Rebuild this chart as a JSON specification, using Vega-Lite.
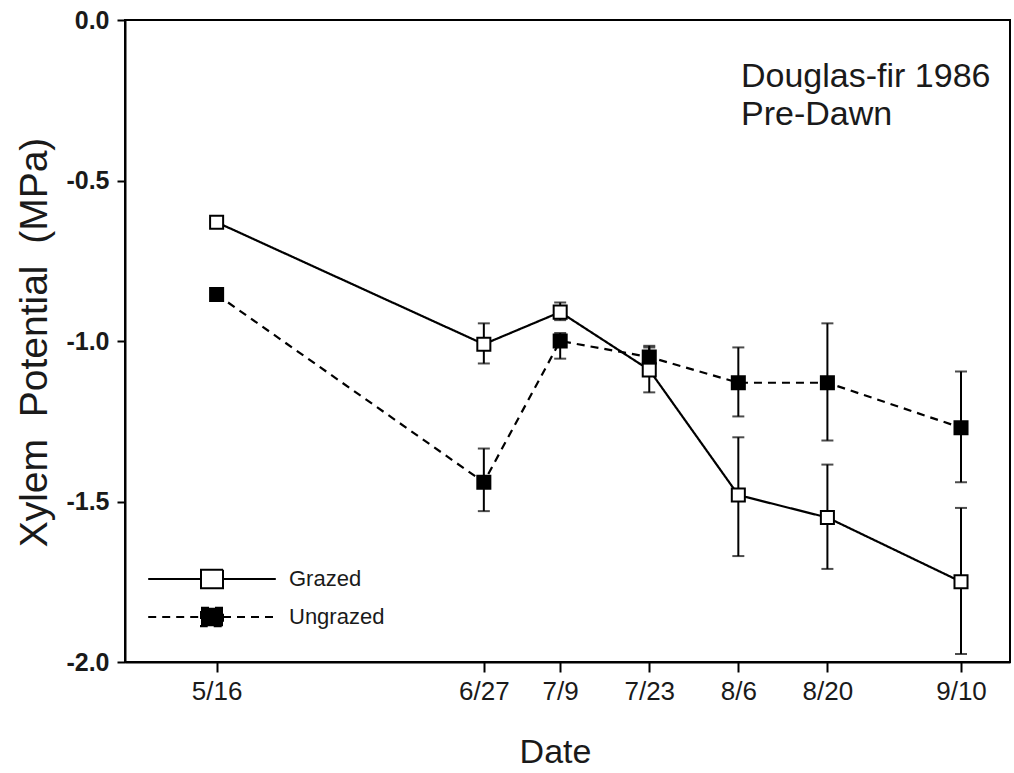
{
  "$schema": "https://vega.github.io/schema/vega-lite/v6.json",
  "width": 885,
  "height": 642,
  "autosize": {"type": "none"},
  "padding": {"left": 125, "top": 20, "right": 4, "bottom": 111},
  "background": "#ffffff",
  "title": {
    "text": ["Douglas-fir 1986", "Pre-Dawn"],
    "anchor": "start",
    "frame": "group",
    "orient": "top",
    "dx": 616,
    "offset": -124,
    "font": "Liberation Sans",
    "fontSize": 34,
    "fontWeight": "normal",
    "color": "#1a1a1a",
    "lineHeight": 38
  },
  "data": {
    "values": [
      {"date": "5/16", "day": 136, "series": "Grazed", "mean": -0.63, "lo": null, "hi": null},
      {"date": "6/27", "day": 178, "series": "Grazed", "mean": -1.01, "lo": -1.07, "hi": -0.945},
      {"date": "7/9", "day": 190, "series": "Grazed", "mean": -0.91, "lo": -0.935, "hi": -0.88},
      {"date": "7/23", "day": 204, "series": "Grazed", "mean": -1.09, "lo": -1.16, "hi": -1.02},
      {"date": "8/6", "day": 218, "series": "Grazed", "mean": -1.48, "lo": -1.67, "hi": -1.3},
      {"date": "8/20", "day": 232, "series": "Grazed", "mean": -1.55, "lo": -1.71, "hi": -1.385},
      {"date": "9/10", "day": 253, "series": "Grazed", "mean": -1.75, "lo": -1.975, "hi": -1.52},
      {"date": "5/16", "day": 136, "series": "Ungrazed", "mean": -0.855, "lo": null, "hi": null},
      {"date": "6/27", "day": 178, "series": "Ungrazed", "mean": -1.44, "lo": -1.53, "hi": -1.335},
      {"date": "7/9", "day": 190, "series": "Ungrazed", "mean": -1.0, "lo": -1.055, "hi": -0.975},
      {"date": "7/23", "day": 204, "series": "Ungrazed", "mean": -1.05, "lo": -1.085, "hi": -1.015},
      {"date": "8/6", "day": 218, "series": "Ungrazed", "mean": -1.13, "lo": -1.235, "hi": -1.02},
      {"date": "8/20", "day": 232, "series": "Ungrazed", "mean": -1.13, "lo": -1.31, "hi": -0.945},
      {"date": "9/10", "day": 253, "series": "Ungrazed", "mean": -1.27, "lo": -1.44, "hi": -1.095}
    ]
  },
  "encoding": {
    "x": {
      "field": "day",
      "type": "quantitative",
      "scale": {"domain": [121.6, 260.7], "nice": false, "zero": false},
      "axis": {
        "title": "Date",
        "values": [136, 178, 190, 204, 218, 232, 253],
        "labelExpr": "timeFormat(datetime(1986, 0, datum.value), '%-m/%-d')",
        "labelFont": "Liberation Sans",
        "labelFontSize": 26,
        "labelColor": "#1a1a1a",
        "labelPadding": 6,
        "tickSize": 10,
        "titleFont": "Liberation Sans",
        "titleFontSize": 34,
        "titleFontWeight": "normal",
        "titleColor": "#1a1a1a",
        "titleX": 430,
        "titleY": 100,
        "titleBaseline": "alphabetic",
        "titleAlign": "center"
      }
    }
  },
  "layer": [
    {
      "transform": [{"filter": "isValid(datum.lo)"}],
      "mark": {"type": "rule", "color": "#000000", "strokeWidth": 2},
      "encoding": {
        "y": {"field": "lo", "type": "quantitative"},
        "y2": {"field": "hi"}
      }
    },
    {
      "transform": [{"filter": "isValid(datum.lo)"}],
      "mark": {"type": "tick", "orient": "horizontal", "color": "#000000", "size": 12, "thickness": 2},
      "encoding": {"y": {"field": "lo", "type": "quantitative"}}
    },
    {
      "transform": [{"filter": "isValid(datum.hi)"}],
      "mark": {"type": "tick", "orient": "horizontal", "color": "#000000", "size": 12, "thickness": 2},
      "encoding": {"y": {"field": "hi", "type": "quantitative"}}
    },
    {
      "mark": {"type": "line", "color": "#000000", "strokeWidth": 2.2},
      "encoding": {
        "y": {
          "field": "mean",
          "type": "quantitative",
          "scale": {"domain": [-2, 0], "nice": false, "zero": false},
          "axis": {
            "title": "Xylem\u00a0\u00a0Potential\u00a0\u00a0(MPa)",
            "values": [0, -0.5, -1, -1.5, -2],
            "labelExpr": "replace(format(datum.value, '.1f'), '\u2212', '-')",
            "labelFont": "Liberation Sans",
            "labelFontSize": 25,
            "labelFontWeight": "bold",
            "labelColor": "#1a1a1a",
            "labelPadding": 8,
            "tickSize": 8,
            "titleFont": "Liberation Sans",
            "titleFontSize": 39,
            "titleFontWeight": "normal",
            "titleColor": "#1a1a1a",
            "titleAngle": -90,
            "titleX": -79,
            "titleY": 322,
            "titleBaseline": "alphabetic",
            "titleAlign": "center"
          }
        },
        "strokeDash": {
          "field": "series",
          "type": "nominal",
          "scale": {"domain": ["Grazed", "Ungrazed"], "range": [[1, 0], [8, 6]]},
          "legend": {
            "title": null,
            "orient": "none",
            "legendX": 75,
            "legendY": 547,
            "padding": 0,
            "symbolType": "M-5.8,0H-1M1,0H5.8M-1,-0.85H1V0.85H-1Z",
            "symbolSize": 484,
            "symbolStrokeWidth": 2,
            "symbolStrokeColor": "#000000",
            "labelFont": "Liberation Sans",
            "labelFontSize": 22,
            "labelColor": "#1a1a1a",
            "labelOffset": 65,
            "rowPadding": 10,
            "encode": {
              "symbols": {
                "update": {
                  "fill": {"signal": "datum.value === 'Grazed' ? '#ffffff' : '#000000'"},
                  "stroke": {"value": "#000000"}
                }
              }
            }
          }
        }
      }
    },
    {
      "mark": {"type": "point", "shape": "square", "filled": true, "size": 170, "stroke": "#000000", "strokeWidth": 2, "opacity": 1},
      "encoding": {
        "y": {"field": "mean", "type": "quantitative"},
        "fill": {
          "field": "series",
          "type": "nominal",
          "scale": {"domain": ["Grazed", "Ungrazed"], "range": ["#ffffff", "#000000"]},
          "legend": null
        }
      }
    }
  ],
  "config": {
    "view": {"stroke": "#000000", "strokeWidth": 2},
    "axis": {
      "grid": false,
      "domainColor": "#000000",
      "domainWidth": 2,
      "tickColor": "#000000",
      "tickWidth": 2
    }
  }
}
